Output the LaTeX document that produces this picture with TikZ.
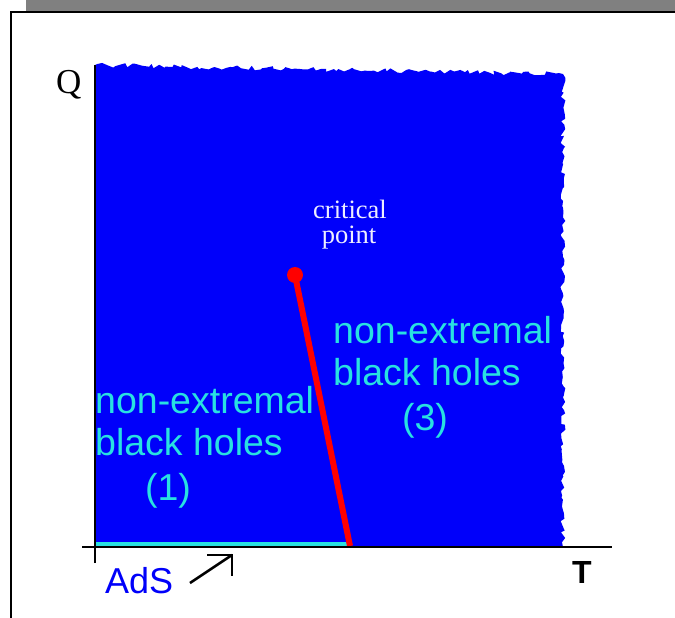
\documentclass[tikz,border=0pt]{standalone}
\usepackage{fontspec}
\setmainfont{Liberation Serif}
\newfontfamily\arialf{Liberation Sans}
\usetikzlibrary{decorations.pathmorphing}
\definecolor{regionblue}{RGB}{0,0,250}
\definecolor{labelcyan}{RGB}{40,225,225}
\definecolor{framegray}{RGB}{128,128,128}
\definecolor{critwhite}{RGB}{238,238,255}
\begin{document}
\begin{tikzpicture}[x=1pt,y=-1pt,
  sanslabel/.style={font=\arialf\fontsize{37.5}{40}\selectfont, text=labelcyan, inner sep=0pt, anchor=base west},
  axisline/.style={line width=2pt, black},
  critlabel/.style={font=\fontsize{26.5}{28}\selectfont, text=critwhite, inner sep=0pt, anchor=base},
  arrowline/.style={line width=2.6pt, black}]
\useasboundingbox (0,0) rectangle (675,618);
% frame
\fill[framegray] (26,0) rectangle (675,11);
\draw[line width=2pt] (10.5,618) -- (10.5,12.5) -- (675,12.5);
% blue region with ragged top and right edges
\pgfmathsetseed{12}
\fill[regionblue] (95,547) -- (95,65)
  decorate[decoration={random steps, segment length=4pt, amplitude=2.4pt}]{ -- (300,69) -- (563,74) -- (563,547)} -- cycle;
% AdS line
\coordinate (adsL) at (95,544);
\coordinate (adsR) at (349,544);
\draw[labelcyan, line width=4pt] (adsL) -- (adsR);
% critical line
\coordinate (crit) at (295,275);
\coordinate (critfoot) at (350,546);
\draw[red, line width=6pt] (crit) -- (critfoot);
\fill[red] (crit) circle[radius=8];
% axes
\coordinate (yaxtop) at (94.5,65);
\coordinate (yaxbot) at (94.5,563);
\coordinate (xaxl) at (82,547);
\coordinate (xaxr) at (612,547);
\draw[axisline] (yaxbot) -- (yaxtop);
\draw[axisline] (xaxl) -- (xaxr);
% axis labels
\node[font=\fontsize{35}{36}\selectfont, inner sep=0pt, anchor=base west] (qlab) at (56,93) {Q};
\node[font=\arialf\bfseries\fontsize{32}{34}\selectfont, inner sep=0pt, anchor=base] (tlab) at (582,583) {T};
% critical point label
\node[critlabel] (crit1) at (350,218) {critical};
\node[critlabel] (crit2) at (349,243) {point};
% region 1
\node[sanslabel] (r1a) at (95,413) {non-extremal};
\node[sanslabel] (r1b) at (95,455) {black holes};
\node[sanslabel, anchor=base] (r1c) at (168,500) {(1)};
% region 3
\node[sanslabel] (r3a) at (333,343) {non-extremal};
\node[sanslabel] (r3b) at (333,385) {black holes};
\node[sanslabel, anchor=base] (r3c) at (425,430) {(3)};
% AdS
\node[font=\arialf\fontsize{36}{38}\selectfont, text=regionblue, inner sep=0pt, anchor=base west] (ads) at (105,593) {AdS};
\coordinate (arrtail) at (190,583);
\coordinate (arrtip) at (232,555);
\draw[arrowline] (arrtail) -- (arrtip);
\draw[arrowline, line join=miter] (207,555) -- (arrtip) -- (232,576);
\end{tikzpicture}
\end{document}
